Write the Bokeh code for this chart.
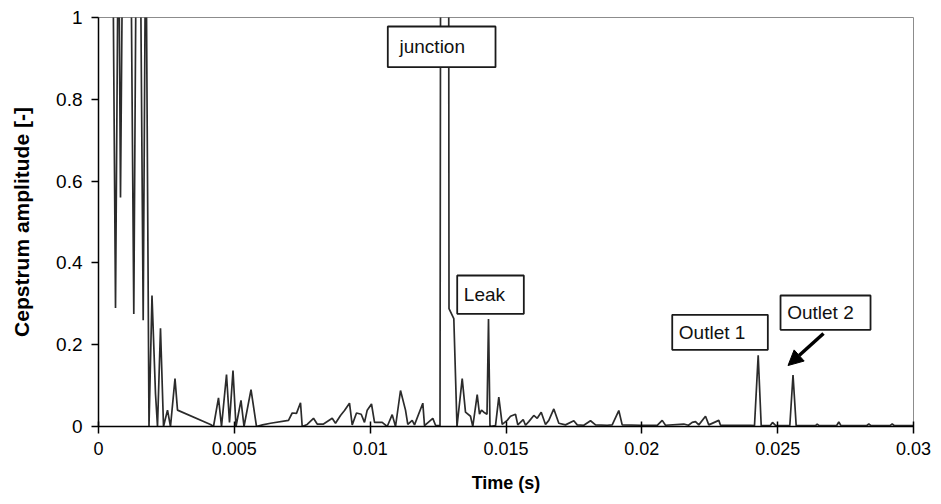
from bokeh.plotting import figure
from bokeh.models import Range1d, FixedTicker, CustomJSTickFormatter, BoxAnnotation, Label, Arrow, NormalHead
from bokeh.embed import file_html
from bokeh.resources import INLINE

# Cepstrum trace (time in s, amplitude [-])
time_s = [
    0.0, 0.000258, 0.000515, 0.000626, 0.000736, 0.000810, 0.000902, 0.001067,
    0.001178, 0.001299, 0.001399, 0.001528, 0.001645, 0.001741, 0.001859,
    0.001969, 0.002098, 0.002172, 0.002282, 0.002393, 0.002540, 0.002650,
    0.002816, 0.002908, 0.004123, 0.004233, 0.004417, 0.004528, 0.004712,
    0.004822, 0.004951, 0.005061, 0.005245, 0.005356, 0.005614, 0.005816,
    0.006037, 0.006331, 0.006994, 0.007130, 0.007288, 0.007436, 0.007498,
    0.007682, 0.007914, 0.008050, 0.008282, 0.008603, 0.008724, 0.008908,
    0.009055, 0.009239, 0.009339, 0.009497, 0.009670, 0.009791, 0.009891,
    0.010049, 0.010160, 0.010443, 0.010627, 0.010811, 0.010933, 0.011117,
    0.011301, 0.011385, 0.011547, 0.011632, 0.011938, 0.012000, 0.012306,
    0.012405, 0.012571, 0.012626, 0.012865, 0.012902, 0.013079, 0.013196,
    0.013388, 0.013509, 0.013693, 0.013778, 0.013940, 0.014025, 0.014098,
    0.014183, 0.014301, 0.014356, 0.014411, 0.014614, 0.014735, 0.014860,
    0.015044, 0.015166, 0.015350, 0.015434, 0.015633, 0.015718, 0.015839,
    0.016023, 0.016149, 0.016296, 0.016454, 0.016576, 0.016760, 0.016944,
    0.017190, 0.017496, 0.017621, 0.017864, 0.018111, 0.018295, 0.018725,
    0.018909, 0.019152, 0.019277, 0.019951, 0.020566, 0.020750, 0.020871,
    0.021545, 0.021718, 0.021854, 0.021976, 0.022097, 0.022344, 0.022465,
    0.022833, 0.022896, 0.024000, 0.024147, 0.024283, 0.024394, 0.024736,
    0.024810, 0.024920, 0.025447, 0.025565, 0.025682, 0.026393, 0.026455,
    0.026522, 0.027166, 0.027250, 0.027331, 0.028270, 0.028355, 0.028436,
    0.029135, 0.029216, 0.029301, 0.030000,
]
amplitude = [
    2.5, 1.8, 1.3, 0.29, 1.3, 0.56, 1.3, 1.8,
    1.3, 0.275, 1.3, 1.3, 0.26, 1.3, 0.0,
    0.32, 0.08, 0.0, 0.24, 0.0, 0.04, 0.0,
    0.117, 0.04, 0.005, 0.0, 0.07, 0.0, 0.127,
    0.01, 0.137, 0.0, 0.064, 0.0, 0.09, 0.0,
    0.004, 0.008, 0.015, 0.033, 0.032, 0.058, 0.0,
    0.005, 0.02, 0.006, 0.006, 0.02, 0.008, 0.027,
    0.039, 0.057, 0.004, 0.033, 0.03, 0.01, 0.04,
    0.055, 0.01, 0.01, 0.0, 0.029, 0.0, 0.088,
    0.04, 0.005, 0.015, 0.004, 0.057, 0.002, 0.02,
    0.003, 0.002, 3.0, 3.0, 0.288, 0.264, 0.0,
    0.117, 0.035, 0.025, 0.0, 0.078, 0.03, 0.04,
    0.035, 0.03, 0.263, 0.0, 0.002, 0.072, 0.005,
    0.015, 0.025, 0.03, 0.004, 0.017, 0.003, 0.012,
    0.027, 0.02, 0.035, 0.005, 0.015, 0.043, 0.008,
    0.004, 0.014, 0.004, 0.003, 0.014, 0.004, 0.003,
    0.004, 0.039, 0.004, 0.003, 0.003, 0.015, 0.003,
    0.006, 0.003, 0.01, 0.012, 0.004, 0.025, 0.004,
    0.015, 0.003, 0.003, 0.002, 0.174, 0.002, 0.003,
    0.01, 0.003, 0.002, 0.126, 0.002, 0.002, 0.006,
    0.002, 0.002, 0.011, 0.002, 0.002, 0.006, 0.002,
    0.002, 0.006, 0.002, 0.002,
]

x_ticks = [0, 0.005, 0.01, 0.015, 0.02, 0.025, 0.03]
y_ticks = [0, 0.2, 0.4, 0.6, 0.8, 1.0]

# annotation boxes: (text, left, right, bottom, top, text_x, text_y)
notes = [
    ("junction", 0.010649, 0.014614, 0.8785, 0.978, 0.011080, 0.928),
    ("Leak", 0.013204, 0.015656, 0.2756, 0.3692, 0.013447, 0.3224),
    ("Outlet 1", 0.021119, 0.024638, 0.1875, 0.2731, 0.021362, 0.2303),
    ("Outlet 2", 0.025105, 0.028418, 0.2364, 0.3203, 0.025351, 0.2784),
]

FONT = "Liberation Sans"

p = figure(width=941, height=504, output_backend="svg", toolbar_location=None,
           x_range=Range1d(0, 0.03), y_range=Range1d(0, 1),
           min_border_left=98, min_border_right=28, min_border_top=17, min_border_bottom=78)
p.background_fill_color = "white"
p.border_fill_color = "white"
p.outline_line_color = "#8c8c8c"
p.outline_line_width = 1
p.xgrid.visible = False
p.ygrid.visible = False

p.line(time_s, amplitude, line_color="#2b2b2b", line_width=1.7)

fmt = CustomJSTickFormatter(code="return String(Number(tick.toFixed(4)));")

xa = p.xaxis[0]
xa.ticker = FixedTicker(ticks=x_ticks)
xa.formatter = fmt
xa.minor_tick_line_color = None
xa.major_tick_in = 5
xa.major_tick_out = 7
xa.axis_line_color = "black"
xa.axis_line_width = 1.5
xa.major_tick_line_width = 1.5
xa.major_label_text_font = FONT
xa.major_label_text_font_size = "18px"
xa.major_label_text_color = "black"
xa.major_label_standoff = 8
xa.axis_label = "Time (s)"
xa.axis_label_text_font = FONT
xa.axis_label_text_font_style = "bold"
xa.axis_label_text_font_size = "18px"
xa.axis_label_text_color = "black"
xa.axis_label_standoff = 15

ya = p.yaxis[0]
ya.ticker = FixedTicker(ticks=y_ticks)
ya.formatter = fmt
ya.minor_tick_line_color = None
ya.major_tick_in = 0
ya.major_tick_out = 7
ya.axis_line_color = "black"
ya.axis_line_width = 1.5
ya.major_tick_line_width = 1.5
ya.major_label_text_font = FONT
ya.major_label_text_font_size = "19px"
ya.major_label_text_color = "black"
ya.major_label_standoff = 9
ya.axis_label = "Cepstrum amplitude [-]"
ya.axis_label_text_font = FONT
ya.axis_label_text_font_style = "bold"
ya.axis_label_text_font_size = "21px"
ya.axis_label_text_color = "black"
ya.axis_label_standoff = 20

for text, l, r, b, t, tx, ty in notes:
    p.add_layout(BoxAnnotation(left=l, right=r, bottom=b, top=t,
                               fill_color="white", fill_alpha=1.0,
                               line_color="#1a1a1a", line_width=1.8, line_alpha=1.0))
    p.add_layout(Label(x=tx, y=ty, text=text, text_font=FONT, text_font_size="19px",
                       text_color="#111111", text_baseline="middle", text_align="left"))

p.add_layout(Arrow(end=NormalHead(size=15, fill_color="black", line_color="black"),
                   x_start=0.026687, y_start=0.2274, x_end=0.025381, y_end=0.1491,
                   line_color="black", line_width=3.5))

open("out.html", "w").write(file_html(p, INLINE))
